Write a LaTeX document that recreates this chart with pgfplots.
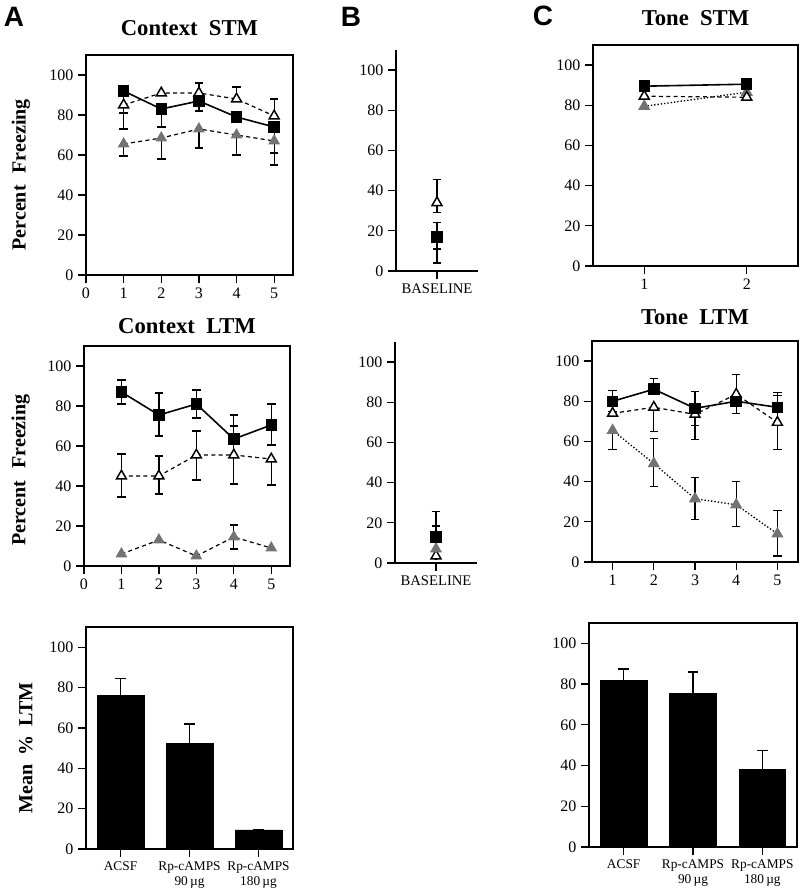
\documentclass[border=0pt]{standalone}
\usepackage{fontspec}
\setmainfont{Liberation Serif}
\newfontfamily\sansb{Liberation Sans}
\usepackage{pgfplots}
\pgfplotsset{compat=1.18}
\definecolor{gtri}{gray}{0.45}
\pgfplotsset{
  base/.style={scale only axis, axis line style={line width=1.1pt}, every tick/.style={black, line width=1pt},
    tick align=outside, major tick length=6pt, tick pos=left, ymin=0, ymax=110, ytick={0,20,...,100},
    tick label style={font=\fontsize{12}{13}\selectfont}, /pgf/number format/assume math mode=true, clip=false,
    title style={font=\fontsize{17}{20}\selectfont\bfseries, at={(0.5,1)}, anchor=base},
    ylabel style={font=\fontsize{15}{18}\selectfont\bfseries, anchor=center}},
  ebu/.style={only marks, mark=none, forget plot, error bars/.cd, y dir=plus, y explicit,
    error bar style={draw=black, line width=0.9pt, solid}, error mark options={rotate=90, draw=black, mark size=3.2pt, line width=0.9pt, solid}},
  ebd/.style={only marks, mark=none, forget plot, error bars/.cd, y dir=minus, y explicit,
    error bar style={draw=black, line width=0.9pt, solid}, error mark options={rotate=90, draw=black, mark size=3.2pt, line width=0.9pt, solid}},
  sq/.style={black, solid, line width=1.2pt, mark=square*, mark size=3.7pt, mark options={solid, fill=black}},
  otri/.style={black, dash pattern=on 3pt off 2.5pt, line width=0.9pt, mark=triangle*, mark size=4.3pt, mark options={solid, fill=white, line width=1.1pt}},
  gtriD/.style={black, dash pattern=on 3pt off 2.5pt, line width=0.9pt, mark=triangle*, mark size=4.3pt, mark options={solid, fill=gtri, draw=gtri}},
  gtriO/.style={black, dash pattern=on 1pt off 1.5pt, line width=1pt, mark=triangle*, mark size=4.3pt, mark options={solid, fill=gtri, draw=gtri}},
  barax/.style={base, ybar, bar width=35pt, xmin=-0.5, xmax=2.5, xtick=data, xticklabels={ACSF,{Rp-cAMPS\\90\,µg},{Rp-cAMPS\\180\,µg}},
    xticklabel style={align=center, font=\fontsize{10}{11.5}\selectfont}},
  barpl/.style={fill=black, draw=black, error bars/.cd, y dir=plus, y explicit,
    error bar style={draw=black, line width=1.1pt}, error mark options={rotate=90, draw=black, mark size=4pt, line width=1.1pt}},
}
\begin{document}
\begin{tikzpicture}
\useasboundingbox (0,0) rectangle (600pt,-666.75pt);
\node[font=\sansb\fontsize{21}{24}\selectfont\bfseries] at (10.5pt,-12.75pt) {A};
\node[font=\sansb\fontsize{21}{24}\selectfont\bfseries] at (263.25pt,-12.75pt) {B};
\node[font=\sansb\fontsize{21}{24}\selectfont\bfseries] at (407.25pt,-12pt) {C};

% A1 Context STM
\begin{axis}[base, anchor=south west, at={(64.5pt,-206.25pt)}, width=155.25pt, height=165pt,
  xmin=0, xmax=5.5, xtick={0,...,5}, title={Context\hspace{0.5em}STM}, title style={yshift=9pt},
  ylabel={Percent\hspace{0.6em}Freezing}, ylabel style={at={(axis description cs:-0.314,0.455)}}]
\addplot[ebd] coordinates {(1,92) -= (0,11) (2,83) -= (0,9) (3,87) -= (0,5) (5,74) -= (0,13)};
\addplot[ebd] coordinates {(1,85) -= (0,12)};
\addplot[ebu] coordinates {(3,91) += (0,5) (4,88) += (0,6) (5,79.5) += (0,8.5)};
\addplot[ebd] coordinates {(1,65.5) -= (0,6) (2,68.5) -= (0,10.5) (3,73) -= (0,9.5) (4,70) -= (0,10) (5,67) -= (0,12)};
\addplot[gtriD] coordinates {(1,65.5) (2,68.5) (3,73) (4,70) (5,67)};
\addplot[otri] coordinates {(1,85) (2,91) (3,91) (4,88) (5,79.5)};
\addplot[sq] coordinates {(1,92) (2,83) (3,87) (4,79) (5,74)};
\end{axis}

% A2 Context LTM
\begin{axis}[base, anchor=south west, at={(63pt,-424.5pt)}, width=154.5pt, height=165pt,
  xmin=0, xmax=5.5, xtick={0,...,5}, title={Context\hspace{0.5em}LTM}, title style={yshift=3.75pt},
  ylabel={Percent\hspace{0.6em}Freezing}, ylabel style={at={(axis description cs:-0.308,0.436)}}]
\addplot[ebu] coordinates {(1,87) += (0,6) (2,75.5) += (0,11) (3,81) += (0,7) (4,63.5) += (0,12) (5,70.5) += (0,10.5)};
\addplot[ebd] coordinates {(1,87) -= (0,6) (2,75.5) -= (0,10.5) (3,81) -= (0,7) (5,70.5) -= (0,10)};
\addplot[ebu] coordinates {(1,45) += (0,11) (2,45) += (0,10) (3,55.5) += (0,12) (4,55.5) += (0,14.5)};
\addplot[ebd] coordinates {(1,45) -= (0,10.5) (2,45) -= (0,9) (3,55.5) -= (0,12.5) (4,55.5) -= (0,14.5) (5,53.5) -= (0,13)};
\addplot[ebu] coordinates {(4,14.5) += (0,6)};
\addplot[ebd] coordinates {(4,14.5) -= (0,6)};
\addplot[gtriD] coordinates {(1,6) (2,13) (3,5) (4,14.5) (5,9)};
\addplot[otri] coordinates {(1,45) (2,45) (3,55.5) (4,55.5) (5,53.5)};
\addplot[sq] coordinates {(1,87) (2,75.5) (3,81) (4,63.5) (5,70.5)};
\end{axis}

% A3 bars
\begin{axis}[barax, anchor=south west, at={(64.5pt,-636.75pt)}, width=155.25pt, height=166.5pt,
  ylabel={Mean\hspace{0.45em}\%\hspace{0.45em}LTM}, ylabel style={at={(axis description cs:-0.29,0.455)}}]
\addplot[barpl] coordinates {(0,76) += (0,8.5) (1,52.5) += (0,9.5) (2,9.5) += (0,0)};
\end{axis}

% B1
\begin{axis}[base, axis lines*=left, anchor=south west, at={(297pt,-203.25pt)}, width=61.5pt, height=165.75pt,
  xmin=0, xmax=2, xtick={1}, xticklabels={BASELINE}, xticklabel style={font=\fontsize{11}{13}\selectfont}]
\addplot[ebu] coordinates {(1,34) += (0,11.5) (1,17) += (0,7)};
\addplot[ebd] coordinates {(1,34) -= (0,5) (1,17) -= (0,6) (1,16) -= (0,12)};
\addplot[otri, only marks] coordinates {(1,34)};
\addplot[sq, only marks] coordinates {(1,17)};
\end{axis}

% B2
\begin{axis}[base, axis lines*=left, anchor=south west, at={(296.25pt,-422.25pt)}, width=61.5pt, height=165.75pt,
  xmin=0, xmax=2, xtick={1}, xticklabels={BASELINE}, xticklabel style={font=\fontsize{11}{13}\selectfont}]
\addplot[ebu] coordinates {(1,13) += (0,12.5) (1,7) += (0,11.5) (1,3) += (0,15)};
\addplot[otri, only marks] coordinates {(1,3.5)};
\addplot[gtriD, only marks] coordinates {(1,7)};
\addplot[sq, only marks] coordinates {(1,13)};
\end{axis}

% C1 Tone STM
\begin{axis}[base, anchor=south west, at={(444.75pt,-199.5pt)}, width=153.75pt, height=165.75pt,
  xmin=0.5, xmax=2.5, xtick={1,2}, title={Tone\hspace{0.5em}STM}, title style={yshift=9pt}]
\addplot[gtriO] coordinates {(1,79.5) (2,86.5)};
\addplot[otri] coordinates {(1,84.5) (2,84)};
\addplot[sq] coordinates {(1,89.5) (2,90.5)};
\end{axis}

% C2 Tone LTM
\begin{axis}[base, anchor=south west, at={(444pt,-421.5pt)}, width=154.5pt, height=165.75pt,
  xmin=0.5, xmax=5.5, xtick={1,...,5}, title={Tone\hspace{0.5em}LTM}, title style={yshift=6.75pt}]
\addplot[ebu] coordinates {(1,80) += (0,5.5) (2,86) += (0,5.5) (3,76.5) += (0,8.5) (5,77) += (0,7.5)};
\addplot[ebd] coordinates {(1,80) -= (0,5) (3,76.5) -= (0,8.5) (4,80) -= (0,6)};
\addplot[ebu] coordinates {(4,83.5) += (0,10) (5,69.5) += (0,13.5)};
\addplot[ebd] coordinates {(2,77) -= (0,12) (3,73.5) -= (0,12.5) (5,69.5) -= (0,13.5)};
\addplot[ebu] coordinates {(2,49) += (0,12.5) (3,31.5) += (0,10.5) (4,28.5) += (0,11.5) (5,14) += (0,11.5)};
\addplot[ebd] coordinates {(1,65.5) -= (0,9.5) (2,49) -= (0,11.5) (3,31.5) -= (0,10.5) (4,28.5) -= (0,11) (5,14) -= (0,11)};
\addplot[gtriO] coordinates {(1,65.5) (2,49) (3,31.5) (4,28.5) (5,14)};
\addplot[otri] coordinates {(1,74) (2,77) (3,73.5) (4,83.5) (5,69.5)};
\addplot[sq] coordinates {(1,80) (2,86) (3,76.5) (4,80) (5,77)};
\end{axis}

% C3 bars
\begin{axis}[barax, anchor=south west, at={(441.75pt,-635.25pt)}, width=156pt, height=168pt]
\addplot[barpl] coordinates {(0,82) += (0,5.5) (1,75.5) += (0,10.5) (2,38) += (0,9.5)};
\end{axis}
\end{tikzpicture}
\end{document}
